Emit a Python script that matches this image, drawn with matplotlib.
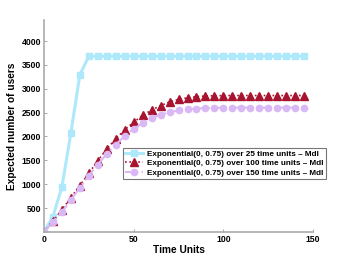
import numpy as np
import matplotlib
matplotlib.use('Agg')
import matplotlib.pyplot as plt

plt.rcParams['font.family'] = ['Liberation Sans', 'DejaVu Sans']
plt.rcParams['font.weight'] = 'bold'

# time axis: a marker every 5 time units
times = np.arange(0, 150, 5)

users_25 = [0, 320, 940, 2070, 3290, 3680, 3680, 3680, 3680, 3680,
            3680, 3680, 3680, 3680, 3680, 3680, 3680, 3680, 3680, 3680,
            3680, 3680, 3680, 3680, 3680, 3680, 3680, 3680, 3680, 3680]
users_100 = [0, 230, 460, 720, 970, 1230, 1490, 1740, 1950, 2140,
             2300, 2440, 2555, 2645, 2725, 2775, 2810, 2835, 2848, 2853,
             2856, 2858, 2858, 2858, 2858, 2858, 2858, 2858, 2858, 2858]
users_150 = [0, 205, 415, 670, 925, 1180, 1410, 1635, 1825, 2010,
             2160, 2280, 2385, 2460, 2505, 2545, 2570, 2585, 2595, 2600,
             2603, 2605, 2605, 2605, 2605, 2605, 2605, 2605, 2605, 2605]

labels = ['Exponential(0, 0.75) over 25 time units \u2013 Mdl',
          'Exponential(0, 0.75) over 100 time units \u2013 Mdl',
          'Exponential(0, 0.75) over 150 time units \u2013 Mdl']

xticks = [0, 50, 100, 150]
yticks = [500, 1000, 1500, 2000, 2500, 3000, 3500, 4000]

fig = plt.figure(figsize=(3.46, 2.6), dpi=100)
ax = fig.add_axes([0.127, 0.108, 0.778, 0.815])

ax.plot(times, users_25, color='#aee8fb', linestyle='-', linewidth=2.2,
        marker='s', markersize=4.5, label=labels[0])
ax.plot(times, users_100, color='#a8142f', linestyle=':', linewidth=1.2,
        marker='^', markersize=5.5, label=labels[1])
ax.plot(times, users_150, color='#d9b8f5', linestyle='-.', linewidth=1.5,
        marker='o', markersize=4.5, label=labels[2])

ax.set_xlim(0, 150)
ax.set_ylim(0, 4440)
ax.set_xticks(xticks)
ax.set_yticks(yticks)
ax.tick_params(direction='in', length=2, width=0.6, color='#999999',
               labelsize=6.2, pad=2)

for side in ['top', 'right']:
    ax.spines[side].set_visible(False)
for side in ['left', 'bottom']:
    ax.spines[side].set_color('#aaaaaa')
    ax.spines[side].set_linewidth(1.2)

ax.set_xlabel('Time Units', fontsize=7.3, fontweight='bold', labelpad=1)
ax.set_ylabel('Expected number of users', fontsize=7.3, fontweight='bold', labelpad=3)

leg = ax.legend(loc='upper left', bbox_to_anchor=(0.294, 0.396), fontsize=5.9,
                frameon=True, fancybox=False, handlelength=2.2,
                borderpad=0.25, labelspacing=0.2, handletextpad=0.5,
                borderaxespad=0)
leg.get_frame().set_edgecolor('#555555')
leg.get_frame().set_linewidth(0.8)

fig.savefig('out.png', dpi=100)
